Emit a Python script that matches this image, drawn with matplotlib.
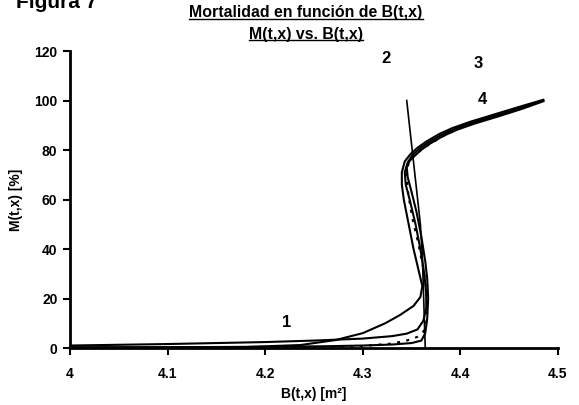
import matplotlib
matplotlib.use("Agg")
import matplotlib.pyplot as plt
from matplotlib.lines import Line2D

plt.rcParams['font.family'] = ['Liberation Sans', 'DejaVu Sans']
plt.rcParams['font.weight'] = 'bold'

# valeurs: B(t,x) [m2] et M(t,x) [%]
b1 = [4.0, 4.05, 4.1, 4.15, 4.2, 4.25, 4.3, 4.33, 4.345, 4.356, 4.362, 4.365, 4.365, 4.363, 4.359,
      4.354, 4.348, 4.344, 4.343, 4.346, 4.351, 4.358, 4.367, 4.380, 4.394, 4.412, 4.437, 4.462, 4.485]
m1 = [1.0, 1.3, 1.6, 2.0, 2.4, 3.0, 3.8, 4.8, 5.8, 7.5, 11, 16, 22, 30, 40,
      50, 60, 66, 71, 75, 78, 80.5, 83, 86, 88.5, 91, 94, 97, 100]

b2 = [4.345, 4.352, 4.359, 4.361, 4.362, 4.363, 4.364]
m2 = [100, 75, 50, 37, 25, 12, 0]

b3 = [4.0, 4.1, 4.18, 4.236, 4.272, 4.30, 4.323, 4.338, 4.352, 4.359, 4.361, 4.358, 4.352, 4.347,
      4.342, 4.340, 4.340, 4.343, 4.349, 4.356, 4.365, 4.378, 4.392, 4.410, 4.435, 4.460, 4.485]
m3 = [0.3, 0.3, 0.4, 1.2, 3.2, 6, 10, 13.3, 17, 20.6, 25, 30, 40, 50,
      60, 66, 71, 75.4, 78.4, 80.9, 83.4, 86.4, 88.9, 91.4, 94.4, 97.4, 100.3]

b4 = [4.0, 4.1, 4.2, 4.26, 4.3, 4.33, 4.35, 4.36, 4.364, 4.366, 4.367, 4.366, 4.364, 4.360,
      4.355, 4.350, 4.346, 4.345, 4.348, 4.353, 4.360, 4.369, 4.382, 4.396, 4.414, 4.439, 4.463, 4.485]
m4 = [0.2, 0.3, 0.5, 0.7, 1.0, 1.4, 2.0, 3.0, 6, 12, 20, 28, 35, 45,
      55, 63, 69, 73, 75.6, 77.6, 80.1, 82.6, 85.6, 88.1, 90.6, 93.6, 96.6, 99.7]

# courbe en pointillés
b5 = [4.22, 4.26, 4.30, 4.33, 4.345, 4.356, 4.362, 4.365, 4.366, 4.365, 4.362, 4.357, 4.351,
      4.347, 4.345, 4.345, 4.348, 4.354, 4.362, 4.372, 4.385, 4.399, 4.416, 4.440, 4.463, 4.485]
m5 = [0.2, 0.4, 0.8, 1.8, 3, 4.5, 6.5, 10, 16, 24, 32, 42, 52,
      61, 68, 72.5, 75.5, 78.2, 80.7, 83.2, 86.2, 88.7, 91.2, 94.2, 97.2, 100]

# étiquettes des courbes
labels = ['1', '2', '3', '4']
labelB = [4.222, 4.324, 4.418, 4.423]
labelM = [10.5, 117, 115, 100.5]

fig = plt.figure(figsize=(5.79, 4.05), dpi=100)
ax = fig.add_axes([70/579, 1-348/405, 488/579, 297/405])

ax.plot(b1, m1, color='black', lw=1.5)
ax.plot(b2, m2, color='black', lw=1.2)
ax.plot(b3, m3, color='black', lw=1.5)
ax.plot(b4, m4, color='black', lw=1.5)
ax.plot(b5, m5, color='black', lw=1.5, dashes=(1.5, 3))

for lab, bx, my in zip(labels, labelB, labelM):
    ax.text(bx, my, lab, fontsize=12, fontweight='bold', ha='center', va='center')

ax.set_xlim(4, 4.5)
ax.set_ylim(0, 120)
ax.set_xticks([4, 4.1, 4.2, 4.3, 4.4, 4.5])
ax.set_xticklabels(['4', '4.1', '4.2', '4.3', '4.4', '4.5'])
ax.set_yticks(range(0, 121, 20))
ax.spines['top'].set_visible(False)
ax.spines['right'].set_visible(False)
ax.spines['left'].set_linewidth(2)
ax.spines['bottom'].set_linewidth(2)
ax.tick_params(direction='out', length=5, width=1.5, labelsize=10, pad=4)
ax.tick_params(axis='x', pad=9)
for t in ax.get_xticklabels() + ax.get_yticklabels():
    t.set_fontweight('bold')
ax.set_xlabel('B(t,x) [m²]', fontsize=10, fontweight='bold', labelpad=4)
ax.set_ylabel('M(t,x) [%]', fontsize=10, fontweight='bold', labelpad=8)

# titre souligné
t1 = fig.text(306/579, 1-13/405, 'Mortalidad en función de B(t,x)', fontsize=11.4,
              fontweight='bold', ha='center', va='center')
t2 = fig.text(306/579, 1-34/405, 'M(t,x) vs. B(t,x)', fontsize=11.4,
              fontweight='bold', ha='center', va='center')
fig.text(16/579, 1-8/405, 'Figura 7', fontsize=15, fontweight='bold', ha='left', va='baseline')

fig.canvas.draw()
r = fig.canvas.get_renderer()
for t in [t1, t2]:
    bb = t.get_window_extent(r).transformed(fig.transFigure.inverted())
    yl = bb.y0 + 0.004
    fig.add_artist(Line2D([bb.x0, bb.x1], [yl, yl], color='black', lw=1.0, transform=fig.transFigure))

fig.savefig('out.png', dpi=100)
